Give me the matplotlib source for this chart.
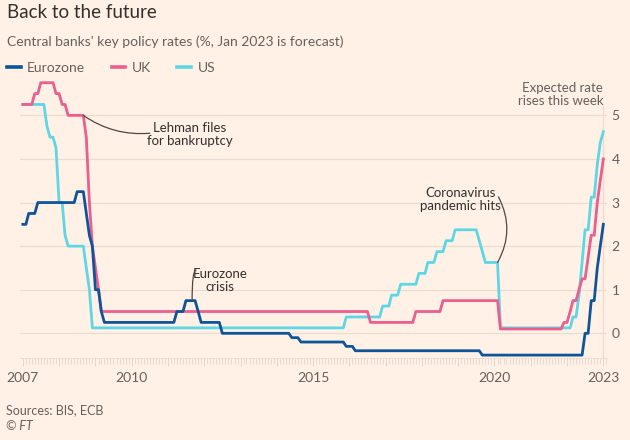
import matplotlib
matplotlib.use("Agg")
import matplotlib.pyplot as plt
import matplotlib.dates as mdates
import pandas as pd
from matplotlib.ticker import FuncFormatter

# policy rate change points (month the new rate applies from), Jan 2023 is forecast
ez_dates = ["2007-01", "2007-03", "2007-06", "2008-07", "2008-10", "2008-11", "2008-12",
            "2009-01", "2009-03", "2009-04", "2011-04", "2011-07", "2011-11", "2011-12",
            "2012-07", "2014-06", "2014-09", "2015-12", "2016-03", "2019-09",
            "2022-07", "2022-09", "2022-11", "2022-12", "2023-01"]
ez_rates = [2.5, 2.75, 3.0, 3.25, 2.75, 2.25, 2.0,
            1.0, 0.5, 0.25, 0.5, 0.75, 0.5, 0.25,
            0.0, -0.1, -0.2, -0.3, -0.4, -0.5,
            0.0, 0.75, 1.5, 2.0, 2.5]

uk_dates = ["2007-01", "2007-05", "2007-07", "2007-12", "2008-02", "2008-04", "2008-10",
            "2008-11", "2008-12", "2009-01", "2009-02", "2009-03", "2016-08", "2017-11",
            "2018-08", "2020-03", "2021-12", "2022-02", "2022-03", "2022-05", "2022-06",
            "2022-08", "2022-09", "2022-11", "2022-12", "2023-01"]
uk_rates = [5.25, 5.5, 5.75, 5.5, 5.25, 5.0, 4.5,
            3.0, 2.0, 1.5, 1.0, 0.5, 0.25, 0.5,
            0.75, 0.1, 0.25, 0.5, 0.75, 1.0, 1.25,
            1.75, 2.25, 3.0, 3.5, 4.0]

us_dates = ["2007-01", "2007-09", "2007-10", "2007-12", "2008-01", "2008-03", "2008-04",
            "2008-10", "2008-11", "2008-12", "2015-12", "2016-12", "2017-03", "2017-06",
            "2017-12", "2018-03", "2018-06", "2018-09", "2018-12", "2019-08", "2019-09",
            "2019-10", "2020-03", "2022-03", "2022-05", "2022-06", "2022-07", "2022-09",
            "2022-11", "2022-12", "2023-01"]
us_rates = [5.25, 4.75, 4.5, 4.25, 3.0, 2.25, 2.0,
            1.5, 1.0, 0.125, 0.375, 0.625, 0.875, 1.125,
            1.375, 1.625, 1.875, 2.125, 2.375, 2.125, 1.875,
            1.625, 0.125, 0.375, 0.875, 1.625, 2.375, 3.125,
            3.875, 4.375, 4.625]

labelled_years = [2007, 2010, 2015, 2020, 2023]
y_ticks = [0, 1, 2, 3, 4, 5]

BG = "#fff1e5"
DARK = "#33302e"
GREY = "#66605c"
GRID = "#e9dcd1"

plt.rcParams["font.family"] = ["Lato", "DejaVu Sans"]


def monthly_path(dates, rates):
    """Each rate holds until the month before the next change (monthly series)."""
    xs, ys = [], []
    stamps = pd.to_datetime(dates)
    for i, (t, r) in enumerate(zip(stamps, rates)):
        if i > 0:
            xs.append(t - pd.DateOffset(months=1))
            ys.append(rates[i - 1])
        xs.append(t)
        ys.append(r)
    return xs, ys


fig = plt.figure(figsize=(6.3, 4.4), dpi=100, facecolor=BG)
ax = fig.add_axes([0.032, 0.187, 0.932, 0.635])
ax.set_facecolor(BG)

series = [
    ("US", us_dates, us_rates, "#5fd6e6"),
    ("UK", uk_dates, uk_rates, "#eb5e8d"),
    ("Eurozone", ez_dates, ez_rates, "#0f5499"),
]
handles = {}
for name, dates, rates, colour in series:
    xs, ys = monthly_path(dates, rates)
    (ln,) = ax.plot(xs, ys, color=colour, lw=2.0, zorder=3, label=name)
    handles[name] = ln

ax.set_xlim(pd.Timestamp("2006-12-05"), pd.Timestamp("2023-02-10"))
ax.set_ylim(-0.56, 5.85)

# forecast marker
ax.axvline(pd.Timestamp("2023-01-01"), ymin=0, ymax=0.9, color="#f6d8ca", lw=1.0, zorder=1)

ax.set_yticks(y_ticks)
ax.yaxis.tick_right()
ax.grid(axis="y", color=GRID, lw=0.9, zorder=0)
ax.tick_params(axis="y", length=0, pad=3, labelsize=10, labelcolor=GREY)

ax.xaxis.set_major_locator(mdates.YearLocator())
ax.xaxis.set_minor_locator(mdates.MonthLocator())
ax.xaxis.set_major_formatter(FuncFormatter(
    lambda v, pos: str(mdates.num2date(v).year) if mdates.num2date(v).year in labelled_years else ""))
ax.tick_params(axis="x", which="major", length=5.5, width=0.6, color="#e2cfc4",
               pad=5, labelsize=10, labelcolor=GREY)
ax.tick_params(axis="x", which="minor", length=4.5, width=0.5, color="#e2cfc4")

for side in ["top", "left", "right"]:
    ax.spines[side].set_visible(False)
ax.spines["bottom"].set_color("#eadbd0")
ax.spines["bottom"].set_linewidth(0.6)

# annotations
conn = dict(arrowstyle="-", color="#4d4845", lw=0.9, shrinkA=0, shrinkB=0)
ax.text(pd.Timestamp("2011-08-09"), 4.55, "Lehman files\nfor bankruptcy", ha="center",
        va="center", fontsize=9.5, color=DARK, linespacing=1.1)
ax.annotate("", xy=(pd.Timestamp("2008-09-01"), 5.0), xytext=(pd.Timestamp("2010-07-02"), 4.59),
            arrowprops=dict(conn, connectionstyle="arc3,rad=-0.18"))

ax.text(pd.Timestamp("2012-06-12"), 1.22, "Eurozone\ncrisis", ha="center",
        va="center", fontsize=9.5, color=DARK, linespacing=1.1)
ax.annotate("", xy=(pd.Timestamp("2011-09-01"), 0.75), xytext=(pd.Timestamp("2011-10-10"), 1.45),
            arrowprops=dict(conn, connectionstyle="angle3,angleA=0,angleB=90"))

ax.text(pd.Timestamp("2019-01-28"), 3.06, "Coronavirus\npandemic hits", ha="center",
        va="center", fontsize=9.5, color=DARK, linespacing=1.1)
ax.annotate("", xy=(pd.Timestamp("2020-02-01"), 1.625), xytext=(pd.Timestamp("2020-02-10"), 3.13),
            arrowprops=dict(conn, connectionstyle="arc3,rad=-0.27"))

ax.text(pd.Timestamp("2023-01-01"), 5.49, "Expected rate\nrises this week", ha="right",
        va="center", fontsize=9.5, color=GREY, linespacing=1.1)

# titles, legend, footer
fig.text(7 / 630, 1 - 13 / 440, "Back to the future", fontsize=13.5, color=DARK, va="center")
fig.text(7 / 630, 1 - 42 / 440, "Central banks' key policy rates (%, Jan 2023 is forecast)",
         fontsize=10, color=GREY, va="center")
fig.legend([handles[n] for n in ["Eurozone", "UK", "US"]], ["Eurozone", "UK", "US"],
           loc="center left", bbox_to_anchor=(0.0, 1 - 68 / 440), ncol=3, frameon=False,
           fontsize=10, labelcolor=GREY, handlelength=1.0, handletextpad=0.45,
           columnspacing=1.9, borderaxespad=0, borderpad=0.5)
for lh in fig.legends[0].get_lines():
    lh.set_linewidth(2.6)

fig.text(6 / 630, 1 - 410 / 440, "Sources: BIS, ECB", fontsize=9, color=GREY, va="center")
fig.text(6 / 630, 1 - 426 / 440, "© FT", fontsize=9, color=GREY, va="center", style="italic")

fig.savefig("out.png", dpi=100, facecolor=BG)
